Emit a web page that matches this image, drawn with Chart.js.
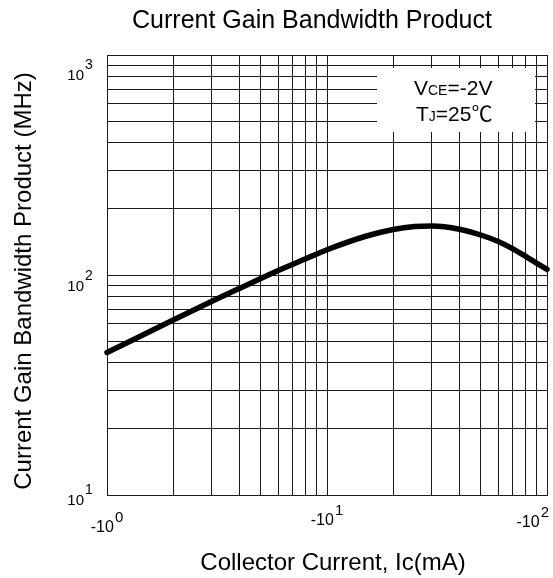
<!DOCTYPE html>
<html>
<head>
<meta charset="utf-8">
<script src="https://cdn.jsdelivr.net/npm/chart.js@4/dist/chart.umd.min.js"></script>
<style>
html,body{margin:0;padding:0;background:#fff;}
canvas{display:block;}
</style>
</head>
<body>
<canvas id="c" width="553" height="578"></canvas>
<script>
// ---- data ----
const currentMA = [1, 2, 3, 4, 5, 6, 7, 8, 9, 10, 15, 20, 25, 30, 40, 50, 60, 70, 80, 90, 100];
const gainBandwidthMHz = [44.4, 62.4, 75.9, 86.9, 96.4, 104.7, 112, 118.6, 124.7, 130.3, 150, 161, 166, 167, 161.5, 152, 142, 131.5, 121.5, 113, 106];
const xGridValues = [1,2,3,4,5,6,7,8,9,10,20,30,40,50,60,70,80,90,100];
const yGridValues = [10,20,30,40,50,60,70,80,90,100,200,300,400,500,600,700,800,900,1000];
const xTickValues = [1, 10, 100];
const xTickBase = ['-10', '-10', '-10'];
const xTickExp = ['0', '1', '2'];
const yTickValues = [10, 100, 1000];
const yTickBase = ['10', '10', '10'];
const yTickExp = ['1', '2', '3'];
const chartTitle = 'Current Gain Bandwidth Product';
const xTitle = 'Collector Current, Ic(mA)';
const yTitle = 'Current Gain Bandwidth Product (MHz)';
const noteLines = [[['V', false], ['CE', true], ['=-2V', false]], [['T', false], ['J', true], ['=25\u2103', false]]];

// ---- styles ----
const FONT = '"Liberation Sans", Arial, "Noto Sans CJK SC", sans-serif';
const yLabelBaselineOffset = [10, 16, 25];
const xLabelBaseline = [532, 525, 527];

const textPlugin = {
  id: 'texts',
  beforeDatasetsDraw(chart) {
    const ctx = chart.ctx;
    ctx.save();
    ctx.fillStyle = '#fff';
    ctx.fillRect(377, 68, 158, 64);
    ctx.restore();
  },
  afterDraw(chart) {
    const ctx = chart.ctx;
    const xs = chart.scales.x, ys = chart.scales.y;
    ctx.save();
    ctx.fillStyle = '#000';
    ctx.textBaseline = 'alphabetic';
    ctx.textAlign = 'center';
    ctx.font = '25px ' + FONT;
    ctx.fillText(chartTitle, 312, 28);
    ctx.font = '24px ' + FONT;
    ctx.fillText(xTitle, 333, 570);
    ctx.save();
    ctx.translate(31, 281);
    ctx.rotate(-Math.PI / 2);
    ctx.fillText(yTitle, 0, 0);
    ctx.restore();
    ctx.textAlign = 'left';
    yTickValues.forEach((v, i) => {
      const py = ys.getPixelForValue(v);
      const base = py + yLabelBaselineOffset[i];
      ctx.font = '15px ' + FONT;
      const w = ctx.measureText(yTickBase[i]).width;
      ctx.fillText(yTickBase[i], 84 - w, base);
      ctx.font = '14px ' + FONT;
      ctx.fillText(yTickExp[i], 85, base - 11);
    });
    xTickValues.forEach((v, i) => {
      const px = xs.getPixelForValue(v);
      ctx.font = '16px ' + FONT;
      const w1 = ctx.measureText(xTickBase[i]).width;
      ctx.font = '15px ' + FONT;
      const w2 = ctx.measureText(xTickExp[i]).width;
      let start = px - (w1 + w2 + 1) / 2;
      start = Math.min(start, 549 - (w1 + w2 + 1));
      ctx.font = '16px ' + FONT;
      ctx.fillText(xTickBase[i], start, xLabelBaseline[i]);
      ctx.font = '15px ' + FONT;
      ctx.fillText(xTickExp[i], start + w1 + 1, xLabelBaseline[i] - 10);
    });
    const baselines = [95, 121];
    const starts = [414, 416];
    noteLines.forEach((parts, li) => {
      let x = starts[li];
      parts.forEach(([t, small]) => {
        ctx.font = (small ? '14px ' : '21px ') + FONT;
        ctx.fillText(t, x, baselines[li]);
        x += ctx.measureText(t).width;
      });
    });
    ctx.restore();
  }
};

function setTicks(values) {
  return function (scale) {
    scale.ticks = values.map(v => ({ value: v }));
  };
}

new Chart(document.getElementById('c'), {
  type: 'line',
  data: {
    datasets: [{
      data: currentMA.map((x, i) => ({ x: x, y: gainBandwidthMHz[i] })),
      borderColor: '#000',
      borderWidth: 5.5,
      borderCapStyle: 'round',
      borderJoinStyle: 'round',
      pointRadius: 0,
      cubicInterpolationMode: 'monotone',
      fill: false,
      clip: false
    }]
  },
  options: {
    responsive: false,
    animation: false,
    devicePixelRatio: 1,
    layout: { padding: { left: 107, right: 6, top: 55, bottom: 83 } },
    plugins: { legend: { display: false }, tooltip: { enabled: false }, title: { display: false } },
    events: [],
    scales: {
      x: {
        type: 'logarithmic',
        min: 1, max: 100,
        afterBuildTicks: setTicks(xGridValues),
        ticks: { display: false, autoSkip: false },
        grid: { color: '#1a1a1a', lineWidth: 1, drawTicks: false },
        border: { display: true, color: '#1a1a1a', width: 1 }
      },
      y: {
        type: 'logarithmic',
        min: 10, max: 1000,
        afterBuildTicks: setTicks(yGridValues),
        ticks: { display: false, autoSkip: false },
        grid: { color: '#1a1a1a', lineWidth: 1, drawTicks: false },
        border: { display: true, color: '#1a1a1a', width: 1 }
      }
    }
  },
  plugins: [textPlugin]
});
</script>
</body>
</html>
